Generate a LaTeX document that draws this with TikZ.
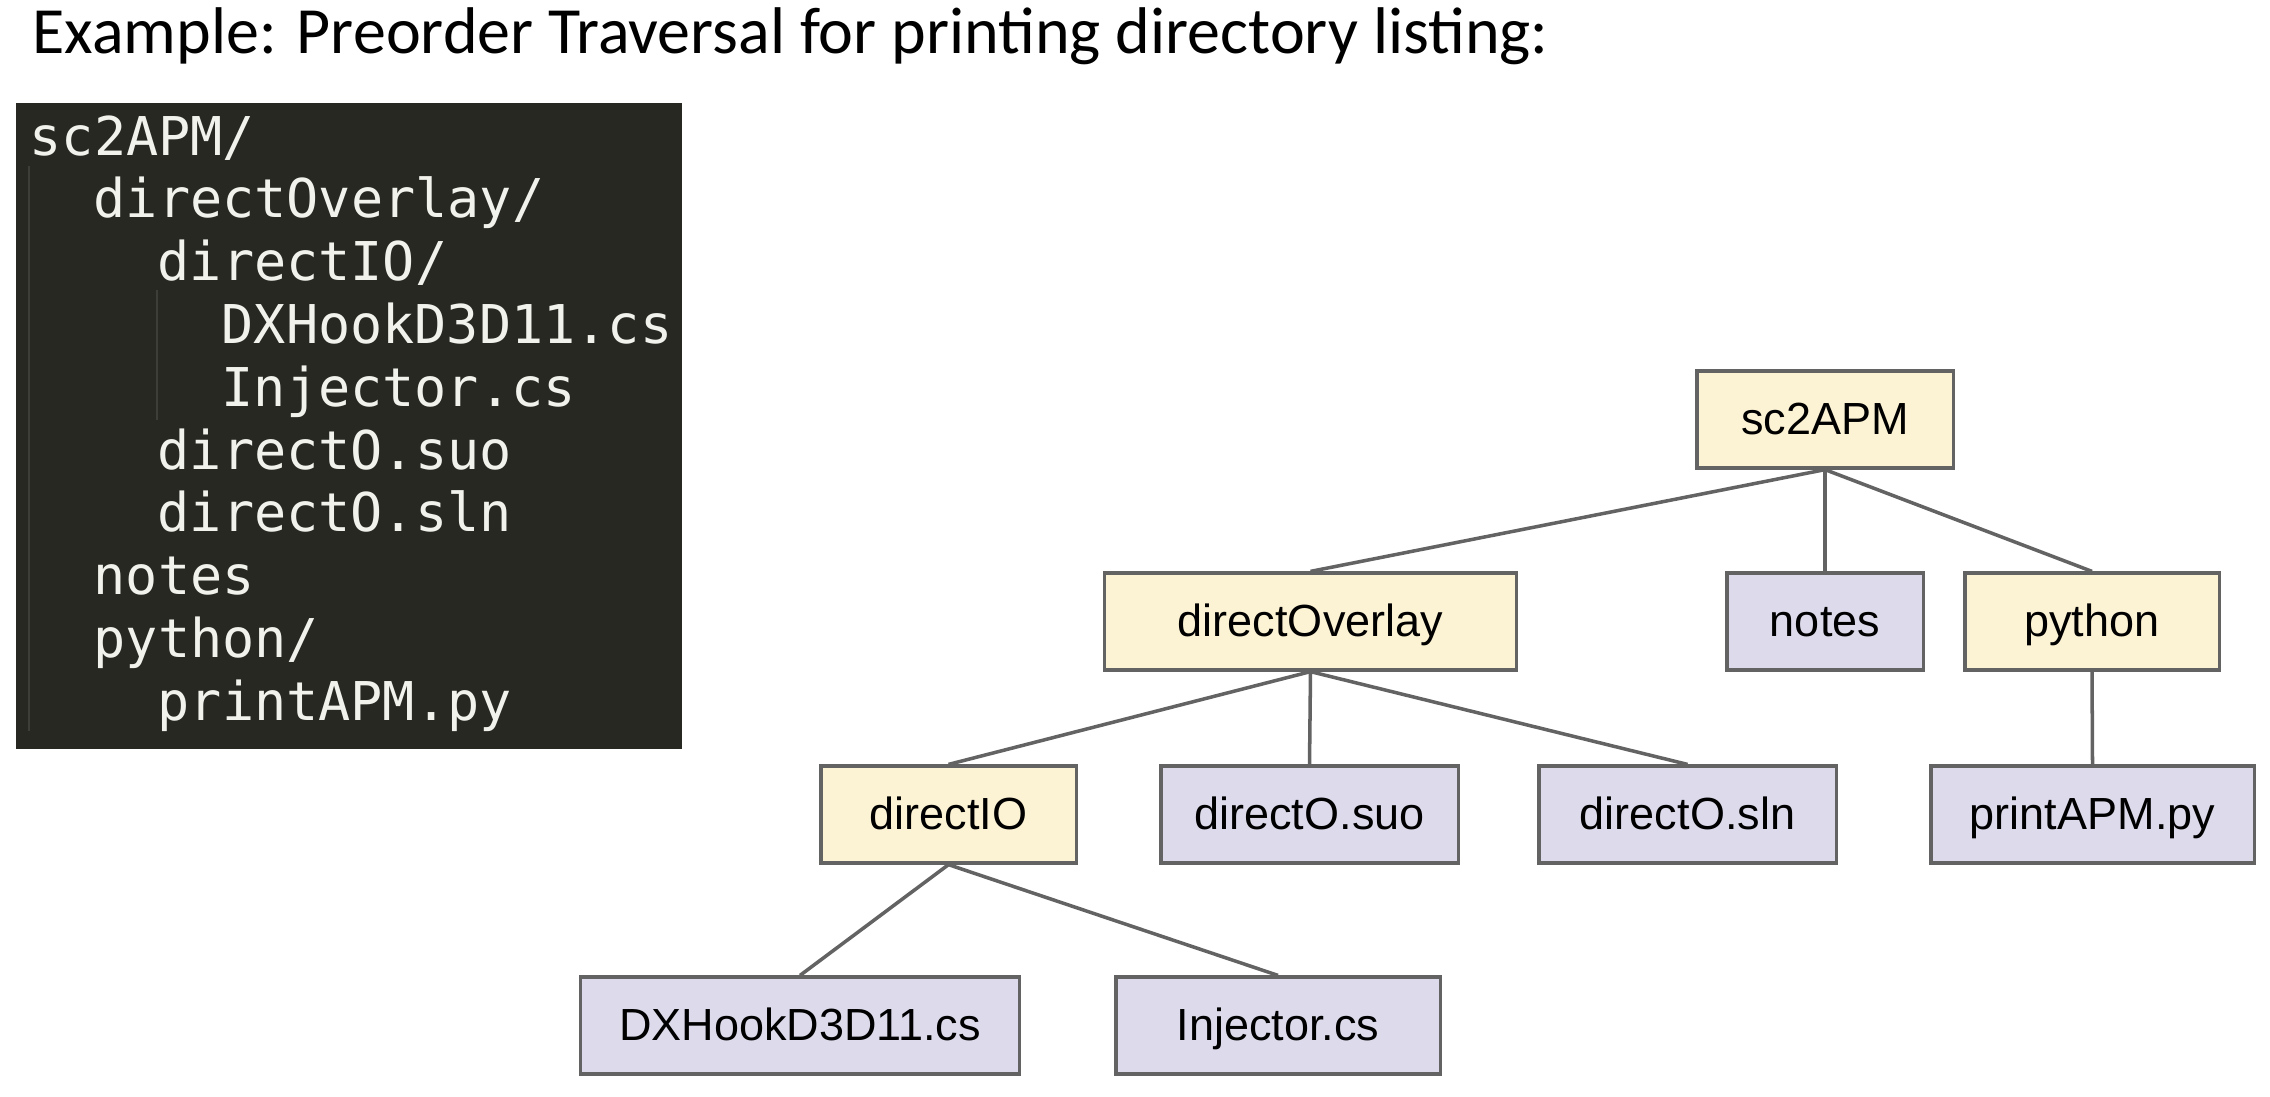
\documentclass[tikz,border=0pt]{standalone}
\usepackage{fontspec}
\setmainfont{Liberation Sans}
\newfontfamily\titlefont{Carlito}
\newfontfamily\codefont{DejaVu Sans Mono}
\usetikzlibrary{positioning}

\definecolor{dirfill}{HTML}{FCF2D4}
\definecolor{filefill}{HTML}{DDDBEB}
\definecolor{boxline}{HTML}{636363}
\definecolor{codebg}{HTML}{272822}
\definecolor{codefg}{HTML}{F2F2EC}
\definecolor{guideline}{HTML}{3D3E38}

\begin{document}
\begin{tikzpicture}[
    x=0.01cm, y=-0.01cm,
    box/.style = {rectangle, minimum height=0.97cm, inner sep=0pt, draw=boxline,
                  line width=0.9pt, text=black, text height=0.9em, text depth=0.06em,
                  font=\fontsize{12.8}{15}\selectfont},
    dir/.style = {box, fill=dirfill},
    file/.style = {box, fill=filefill},
    link/.style = {draw=boxline, line width=1pt},
    codeline/.style = {anchor=base west, inner sep=0pt, text=codefg,
                       font=\codefont\fontsize{15.2}{17.9}\selectfont},
    guide/.style = {draw=guideline, line width=0.5pt}
]
    \useasboundingbox (0,0) rectangle (2270,1096);

    % Title
    \node[anchor=base west, inner sep=0pt, font=\titlefont\fontsize{18.77}{22}\selectfont]
        (title) at (32,53) {Example: Preorder Traversal for printing directory listing:};

    % Listing
    \node[fill=codebg, minimum width=6.66cm, minimum height=6.46cm, inner sep=0pt]
        (listing) at (349,426) {};
    \draw[guide] (29,166) -- (29,731);
    \draw[guide] (157,290) -- (157,420);
    \foreach \lvl/\txt [count=\i] in {0/{sc2APM/}, 1/{directOverlay/}, 2/{directIO/},
            3/{DXHookD3D11.cs}, 3/{Injector.cs}, 2/{directO.suo}, 2/{directO.sln},
            1/{notes}, 1/{python/}, 2/{printAPM.py}}
        \node[codeline] (line\i) at ({29+\lvl*64}, {155+(\i-1)*62.8}) {\txt};

    % Tree
    \node[dir, minimum width=2.56cm] (root) at (1825,419.5) {sc2APM};

    \node[dir, minimum width=4.11cm] (overlay) at (1310.5,621.5) {directOverlay};
    \node[file, minimum width=1.96cm] (notes) at (1825,621.5) {notes};
    \node[dir, minimum width=2.54cm] (python) at (2092,621.5) {python};

    \node[dir, minimum width=2.55cm] (io) at (948.5,814.5) {directIO};
    \node[file, minimum width=2.97cm] (suo) at (1309.5,814.5) {directO.suo};
    \node[file, minimum width=2.97cm] (sln) at (1687.5,814.5) {directO.sln};
    \node[file, minimum width=3.23cm] (printapm) at (2092.5,814.5) {printAPM.py};

    \node[file, minimum width=4.38cm] (dxhook) at (800,1025.5) {DXHookD3D11.cs};
    \node[file, minimum width=3.24cm] (injector) at (1278,1025.5) {Injector.cs};

    % Links
    \draw[link] (root.south) -- (overlay.north);
    \draw[link] (root.south) -- (notes.north);
    \draw[link] (root.south) -- (python.north);
    \draw[link] (overlay.south) -- (io.north);
    \draw[link] (overlay.south) -- (suo.north);
    \draw[link] (overlay.south) -- (sln.north);
    \draw[link] (python.south) -- (printapm.north);
    \draw[link] (io.south) -- (dxhook.north);
    \draw[link] (io.south) -- (injector.north);

\end{tikzpicture}
\end{document}
